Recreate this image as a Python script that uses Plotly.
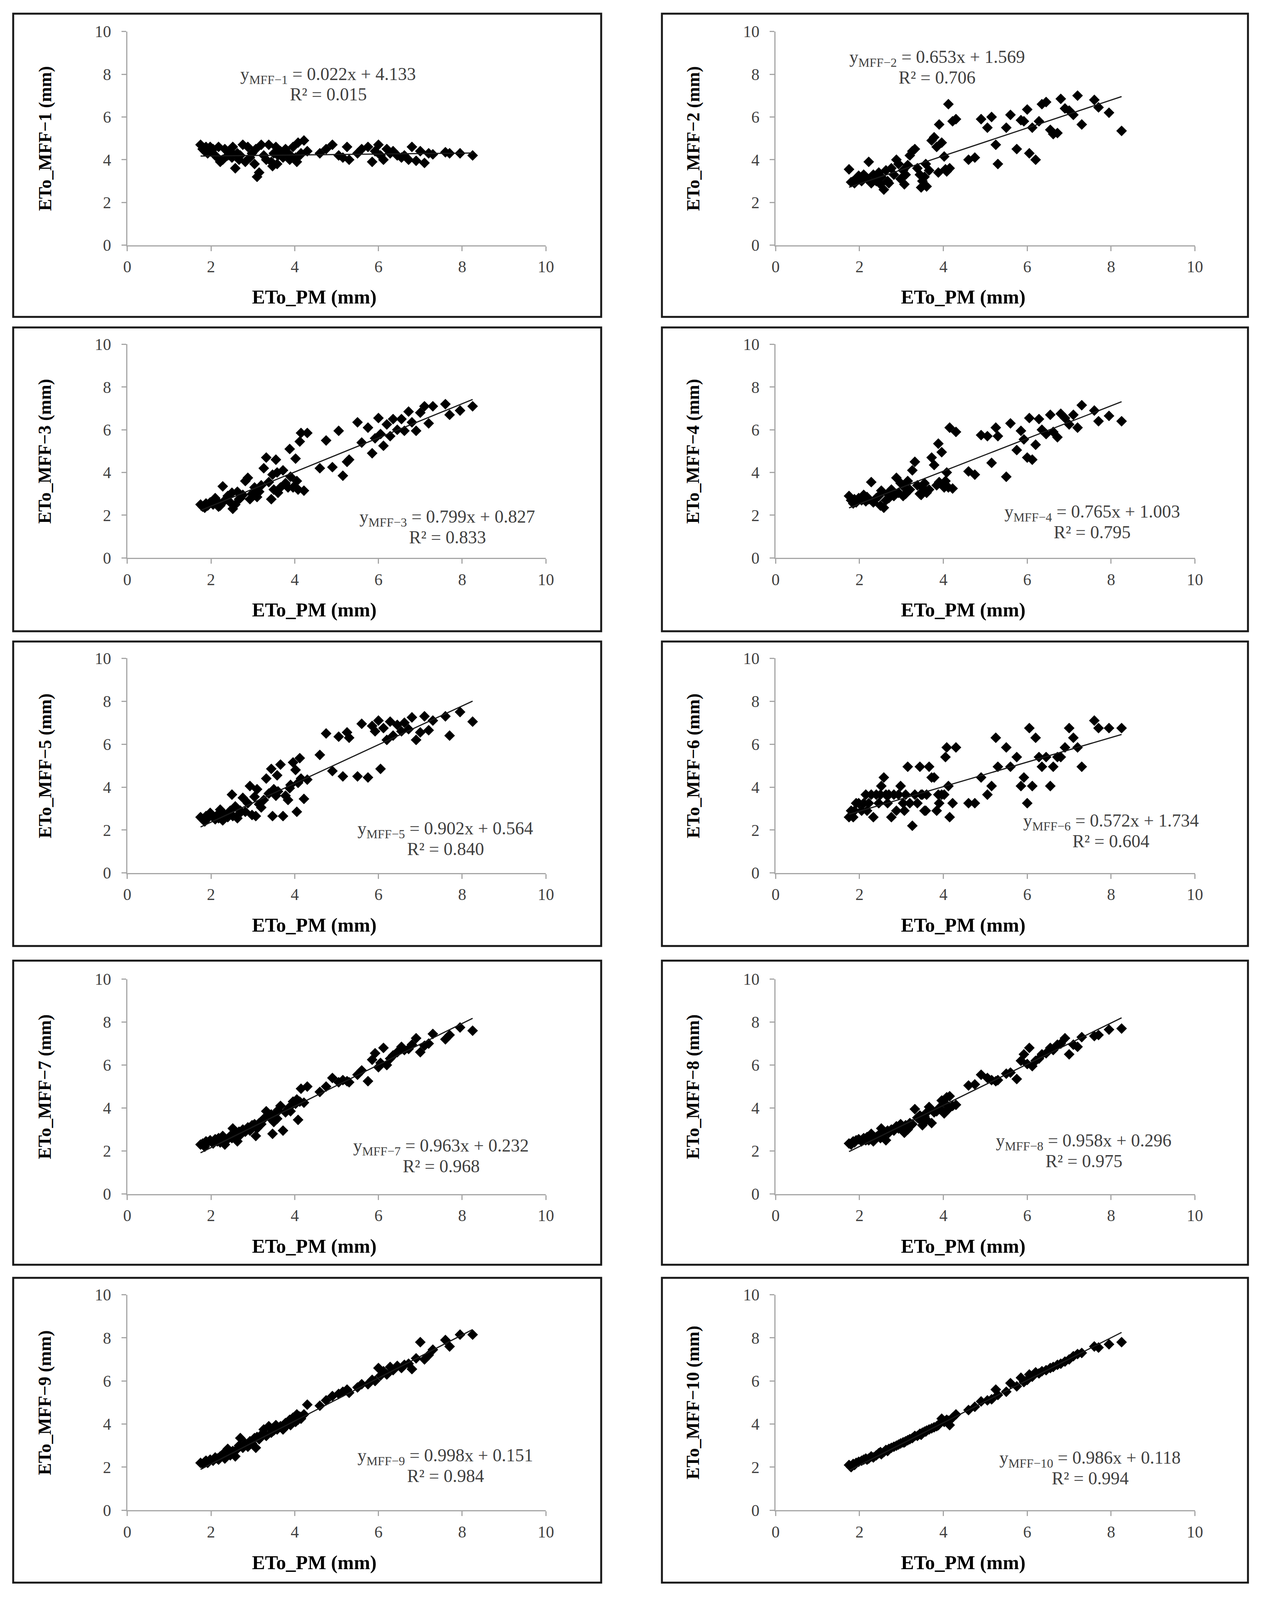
import plotly.graph_objects as go

# ETo_PM (mm), shared x values of every panel
eto_pm = [1.75, 1.80, 1.85, 1.88, 1.92, 1.98, 2.05, 2.10, 2.15, 2.18,
          2.22, 2.28, 2.33, 2.40, 2.46, 2.50, 2.52, 2.58, 2.63, 2.67,
          2.70, 2.76, 2.82, 2.88, 2.93, 2.98, 3.04, 3.07, 3.10, 3.15,
          3.20, 3.26, 3.32, 3.38, 3.44, 3.47, 3.50, 3.55, 3.58, 3.60,
          3.66, 3.72, 3.78, 3.84, 3.88, 3.90, 3.96, 4.02, 4.05, 4.08,
          4.12, 4.15, 4.22, 4.30, 4.60, 4.75, 4.90, 5.05, 5.15, 5.25,
          5.30, 5.50, 5.60, 5.75, 5.85, 5.92, 6.00, 6.05, 6.12, 6.20,
          6.28, 6.35, 6.45, 6.55, 6.62, 6.72, 6.80, 6.90, 7.00, 7.10,
          7.20, 7.30, 7.60, 7.70, 7.95, 8.25]

mff1 = [4.7, 4.5, 4.4, 4.6, 4.3, 4.6, 4.5, 4.2, 4.1, 4.6,
        3.9, 4.0, 4.5, 4.2, 4.4, 4.1, 4.6, 3.6, 4.3, 4.0,
        4.2, 4.7, 3.9, 4.6, 4.1, 4.3, 3.8, 4.5, 3.2, 3.4,
        4.7, 4.2, 4.0, 4.7, 3.9, 3.7, 4.3, 4.6, 3.8, 4.2,
        4.4, 4.1, 4.5, 4.3, 4.0, 4.2, 4.6, 4.1, 3.9, 4.8,
        4.2, 4.3, 4.9, 4.4, 4.3, 4.5, 4.7, 4.2, 4.1, 4.6,
        4.0, 4.3, 4.5, 4.6, 3.9, 4.4, 4.7, 4.2, 4.0, 4.5,
        4.3, 4.4, 4.2, 4.1, 4.2, 4.0, 4.6, 3.95, 4.4, 3.85,
        4.3, 4.25, 4.35, 4.3, 4.3, 4.2]

mff2 = [3.55, 2.95, 3.0, 2.9, 3.1, 3.25, 3.0, 3.3, 3.2, 3.1,
        3.9, 2.9, 3.3, 3.0, 3.4, 2.85, 3.2, 2.6, 3.5, 3.0,
        2.9, 3.6, 3.3, 4.0, 3.8, 3.1, 3.5, 2.85, 3.3, 3.75,
        4.2, 4.4, 4.5, 3.6, 3.3, 2.7, 3.0, 3.2, 3.8, 2.75,
        3.5, 4.9, 5.05, 4.6, 3.4, 5.65, 4.8, 4.15, 3.55, 3.45,
        6.6, 3.6, 5.8, 5.9, 4.0, 4.1, 5.9, 5.5, 6.0, 4.7,
        3.8, 5.5, 6.1, 4.5, 5.85, 5.8, 6.35, 4.3, 5.5, 4.0,
        5.8, 6.6, 6.7, 5.4, 5.2, 5.25, 6.85, 6.4, 6.3, 6.1,
        7.0, 5.65, 6.8, 6.45, 6.2, 5.35]

mff3 = [2.5, 2.4, 2.35, 2.55, 2.45, 2.6, 2.5, 2.8, 2.65, 2.4,
        2.45, 3.35, 2.7, 2.9, 2.6, 3.05, 2.3, 2.5, 3.1, 2.75,
        2.8, 2.95, 3.6, 3.75, 2.75, 3.0, 3.3, 2.95, 2.85, 3.1,
        3.4, 4.2, 4.7, 3.55, 2.75, 3.9, 3.2, 4.6, 4.0, 3.05,
        3.3, 4.1, 3.5, 3.3, 5.1, 3.8, 3.3, 4.65, 3.6, 3.2,
        5.45, 5.85, 3.15, 5.85, 4.2, 5.5, 4.25, 5.95, 3.85, 4.5,
        4.6, 6.35, 5.4, 6.1, 4.9, 5.6, 6.55, 5.8, 5.25, 6.25,
        5.7, 6.5, 6.0, 6.5, 5.95, 6.85, 6.35, 5.95, 6.8, 7.1,
        6.3, 7.1, 7.2, 6.7, 6.9, 7.1]

mff4 = [2.9, 2.7, 2.55, 2.75, 2.6, 2.8, 2.7, 2.95, 2.65, 2.85,
        2.75, 3.55, 2.6, 2.8, 2.9, 2.45, 3.15, 2.35, 2.7, 3.0,
        2.8, 3.2, 2.9, 3.75, 3.05, 3.5, 2.9, 3.3, 3.0, 3.6,
        3.2, 4.1, 4.5, 3.4, 3.0, 2.95, 3.3, 3.5, 3.15, 3.05,
        3.2, 4.7, 4.35, 3.4, 5.35, 3.55, 4.95, 3.3, 3.6, 4.0,
        3.3, 6.1, 3.25, 5.9, 4.05, 3.9, 5.75, 5.7, 4.45, 6.1,
        5.7, 3.8, 6.3, 5.05, 5.95, 5.55, 4.7, 6.55, 4.6, 5.3,
        6.5, 6.0, 5.8, 6.7, 5.9, 5.65, 6.75, 6.55, 6.25, 6.7,
        6.1, 7.15, 6.9, 6.4, 6.65, 6.4]

mff5 = [2.6, 2.5, 2.4, 2.65, 2.55, 2.8, 2.6, 2.5, 2.7, 2.55,
        2.95, 2.45, 2.7, 2.6, 2.9, 3.65, 2.65, 3.1, 2.55, 2.75,
        2.9, 3.5, 2.85, 3.25, 4.05, 2.7, 3.55, 2.65, 3.9, 3.2,
        3.05, 3.4, 4.4, 3.7, 4.85, 2.65, 3.9, 3.6, 4.55, 3.8,
        5.05, 2.65, 3.6, 3.4, 3.95, 4.1, 5.15, 4.8, 2.85, 4.2,
        5.35, 4.4, 3.45, 4.35, 5.5, 6.5, 4.75, 6.35, 4.5, 6.55,
        6.3, 4.5, 6.95, 4.45, 6.85, 6.6, 7.1, 4.85, 6.75, 6.2,
        7.05, 6.4, 6.9, 6.6, 7.0, 6.7, 7.25, 6.2, 6.55, 7.3,
        6.65, 7.1, 7.3, 6.4, 7.5, 7.05]

mff6 = [2.6, 2.9, 2.6, 2.9, 3.25, 3.25, 2.9, 3.25, 3.65, 2.9,
        3.25, 3.65, 2.6, 3.65, 3.25, 3.65, 4.05, 4.45, 3.65, 3.25,
        3.65, 2.6, 3.65, 2.9, 3.65, 4.05, 3.25, 2.9, 3.65, 4.95,
        3.25, 2.2, 3.65, 3.25, 4.95, 3.65, 3.65, 2.9, 2.9, 3.65,
        4.95, 4.45, 4.45, 2.9, 3.65, 3.25, 3.65, 3.65, 5.4, 5.85,
        4.05, 2.6, 3.25, 5.85, 3.25, 3.25, 4.45, 3.65, 4.05, 6.3,
        4.95, 5.85, 4.95, 5.4, 4.05, 4.45, 3.25, 6.75, 4.05, 6.3,
        5.4, 4.95, 5.4, 4.05, 4.95, 5.4, 5.4, 5.85, 6.75, 6.3,
        5.85, 4.95, 7.1, 6.75, 6.75, 6.75]

mff7 = [2.3, 2.35, 2.2, 2.45, 2.4, 2.5, 2.35, 2.55, 2.45, 2.6,
        2.4, 2.7, 2.3, 2.55, 2.7, 2.6, 3.05, 2.8, 2.45, 2.9,
        2.75, 3.0, 2.9, 3.1, 2.95, 3.2, 3.25, 2.7, 3.05, 3.3,
        3.25, 3.5, 3.85, 3.6, 3.7, 2.8, 3.35, 3.75, 3.5, 3.9,
        4.1, 2.95, 3.8, 3.95, 4.05, 3.85, 4.3, 4.2, 4.4, 3.45,
        4.3, 4.9, 4.25, 5.0, 4.75, 5.0, 5.4, 5.2, 5.3, 5.25,
        5.2, 5.55, 5.75, 5.25, 6.25, 6.55, 5.9, 6.1, 6.8, 6.0,
        6.3, 6.45, 6.6, 6.85, 6.7, 6.75, 6.95, 7.25, 6.6, 6.9,
        7.0, 7.45, 7.2, 7.4, 7.75, 7.6]

mff8 = [2.35, 2.3, 2.45, 2.4, 2.5, 2.55, 2.45, 2.6, 2.5, 2.65,
        2.5, 2.8, 2.45, 2.65, 2.75, 2.6, 3.05, 2.85, 2.5, 2.95,
        2.85, 3.0, 2.95, 3.15, 3.05, 3.25, 3.1, 2.85, 3.2, 3.0,
        3.3, 3.25, 3.95, 3.55, 3.65, 3.4, 3.2, 3.6, 3.75, 3.45,
        4.05, 3.3, 3.8, 3.85, 3.95, 4.0, 4.35, 3.75, 4.2, 4.5,
        3.95, 4.55, 4.1, 4.15, 5.05, 5.1, 5.55, 5.4, 5.3, 5.25,
        5.3, 5.6, 5.65, 5.35, 6.2, 6.5, 6.05, 6.8, 5.95, 6.2,
        6.3, 6.5, 6.55, 6.8, 6.7, 6.95, 7.0, 7.25, 6.5, 6.95,
        6.85, 7.3, 7.35, 7.4, 7.65, 7.7]

mff9 = [2.2, 2.15, 2.25, 2.3, 2.2, 2.35, 2.3, 2.45, 2.4, 2.35,
        2.5, 2.6, 2.4, 2.85, 2.55, 2.7, 2.75, 2.5, 2.85, 3.0,
        3.35, 2.9, 3.1, 2.95, 3.2, 3.1, 3.35, 2.9, 3.4, 3.3,
        3.5, 3.75, 3.45, 3.9, 3.6, 3.8, 3.7, 3.95, 3.75, 3.85,
        3.9, 3.75, 4.05, 4.0, 4.2, 3.95, 4.3, 4.1, 4.45, 4.2,
        4.35, 4.25, 4.45, 4.9, 4.85, 5.1, 5.3, 5.4, 5.5, 5.6,
        5.45, 5.7, 5.85, 5.85, 6.05, 6.0, 6.6, 6.25, 6.45, 6.3,
        6.65, 6.5, 6.7, 6.6, 6.75, 6.8, 6.55, 7.05, 7.8, 7.0,
        7.2, 7.45, 7.9, 7.6, 8.15, 8.15]

mff10 = [2.1, 2.0, 2.15, 2.1, 2.2, 2.25, 2.3, 2.35, 2.4, 2.35,
         2.4, 2.5, 2.45, 2.55, 2.65, 2.7, 2.6, 2.7, 2.8, 2.75,
         2.85, 2.9, 2.95, 3.0, 3.05, 3.1, 3.15, 3.15, 3.2, 3.25,
         3.3, 3.35, 3.45, 3.45, 3.55, 3.5, 3.6, 3.65, 3.65, 3.7,
         3.75, 3.8, 3.85, 3.9, 3.95, 4.0, 4.25, 4.1, 4.15, 4.2,
         4.15, 3.95, 4.3, 4.45, 4.65, 4.8, 5.05, 5.1, 5.15, 5.6,
         5.35, 5.5, 5.9, 5.75, 6.15, 5.95, 6.05, 6.3, 6.2, 6.4,
         6.35, 6.45, 6.5, 6.6, 6.65, 6.75, 6.8, 6.9, 7.0, 7.15,
         7.25, 7.3, 7.6, 7.55, 7.7, 7.8]

series = [mff1, mff2, mff3, mff4, mff5, mff6, mff7, mff8, mff9, mff10]
slopes = [0.022, 0.653, 0.799, 0.765, 0.902, 0.572, 0.963, 0.958, 0.998, 0.986]
intercepts = [4.133, 1.569, 0.827, 1.003, 0.564, 1.734, 0.232, 0.296, 0.151, 0.118]
r_squared = [0.015, 0.706, 0.833, 0.795, 0.840, 0.604, 0.968, 0.975, 0.984, 0.994]
tick_vals = [0, 2, 4, 6, 8, 10]

# equation label placement per panel: x centre, y of equation line, y of R² line
eq_pos = [(4.8, 7.955, 7.055), (3.85, 8.755, 7.855), (7.65, 1.875, 0.975),
          (7.55, 2.105, 1.205), (7.6, 2.02, 1.12), (8.0, 2.38, 1.48),
          (7.5, 2.2, 1.3), (7.35, 2.43, 1.53), (7.6, 2.49, 1.59),
          (7.5, 2.375, 1.475)]

# reference page size, used to turn pixel positions into page fractions
W, H = 3243, 4962
# plot areas: column x (left, right), row y (top, bottom)
cols_px = [(318, 1400), (1994, 3078)]
rows_px = [(72, 742), (1053, 1723), (2038, 2711), (3044, 3718), (4034, 4710)]
# outer frames
frame_cols = [(23, 1543), (1700, 3215)]
frame_rows = [(16, 967), (1000, 1953), (1985, 2940), (2986, 3940), (3981, 4937)]

FONT = "Liberation Serif"
AX_GREY = "#a6a6a6"

fig = go.Figure()
shapes = []
annotations = []

for i, y in enumerate(series):
    r, c = divmod(i, 2)
    n = "" if i == 0 else str(i + 1)
    xa, ya = "x" + n, "y" + n

    fig.add_trace(go.Scatter(
        x=eto_pm, y=y, mode="markers", xaxis=xa, yaxis=ya,
        marker=dict(symbol="diamond", size=21, color="black"),
        showlegend=False))

    # linear trend line from the fitted coefficients
    x_lo, x_hi = min(eto_pm), max(eto_pm)
    fig.add_trace(go.Scatter(
        x=[x_lo, x_hi],
        y=[slopes[i] * x_lo + intercepts[i], slopes[i] * x_hi + intercepts[i]],
        mode="lines", xaxis=xa, yaxis=ya,
        line=dict(color="#1a1a1a", width=3), showlegend=False))

    x0, x1 = cols_px[c]
    y0, y1 = rows_px[r]
    axis_common = dict(range=[0, 10], tickvals=tick_vals, showgrid=False,
                       zeroline=False, showline=True, linecolor=AX_GREY,
                       linewidth=3, ticks="outside", ticklen=12, tickwidth=3,
                       tickcolor=AX_GREY,
                       tickfont=dict(family=FONT, size=42, color="#404040"))
    fig.update_layout(**{
        "xaxis" + n: dict(domain=[x0 / W, x1 / W], anchor=ya,
                          ticklabelstandoff=4, **axis_common),
        "yaxis" + n: dict(domain=[1 - y1 / H, 1 - y0 / H], anchor=xa,
                          ticklabelstandoff=18, **axis_common),
    })

    fx0, fx1 = frame_cols[c]
    fy0, fy1 = frame_rows[r]
    shapes.append(dict(type="rect", xref="paper", yref="paper",
                       x0=fx0 / W, x1=fx1 / W, y0=1 - fy1 / H, y1=1 - fy0 / H,
                       line=dict(color="#1a1a1a", width=5)))

    annotations.append(dict(
        xref=xa + " domain", yref=ya + " domain", x=0.447, y=-0.242,
        xanchor="center", yanchor="middle",
        text="<b>ETo_PM (mm)</b>", showarrow=False,
        font=dict(family=FONT, size=50, color="black")))
    annotations.append(dict(
        xref=xa + " domain", yref=ya + " domain", x=-0.197, y=0.5,
        xanchor="center", yanchor="middle",
        text="<b>ETo_MFF\u2212%d (mm)</b>" % (i + 1), textangle=-90,
        showarrow=False, font=dict(family=FONT, size=46, color="black")))

    ex, ey1, ey2 = eq_pos[i]
    annotations.append(dict(
        xref=xa, yref=ya, x=ex, y=ey1, showarrow=False,
        xanchor="center", yanchor="middle",
        text="y<sub>MFF\u2212%d</sub> = %.3fx + %.3f"
             % (i + 1, slopes[i], intercepts[i]),
        font=dict(family=FONT, size=46, color="#404040")))
    annotations.append(dict(
        xref=xa, yref=ya, x=ex, y=ey2, showarrow=False,
        xanchor="center", yanchor="middle",
        text="R\u00b2 = %.3f" % r_squared[i],
        font=dict(family=FONT, size=46, color="#404040")))

fig.update_layout(
    autosize=True,
    margin=dict(l=0, r=0, t=0, b=0),
    paper_bgcolor="white", plot_bgcolor="white",
    shapes=shapes, annotations=annotations)

# the figure fills the browser window; drop the default page margin
fig.write_html(
    "out.html", default_width="100vw", default_height="100vh",
    config={"displayModeBar": False},
    post_script="document.body.style.margin='0';"
                "document.documentElement.style.overflow='hidden';")
